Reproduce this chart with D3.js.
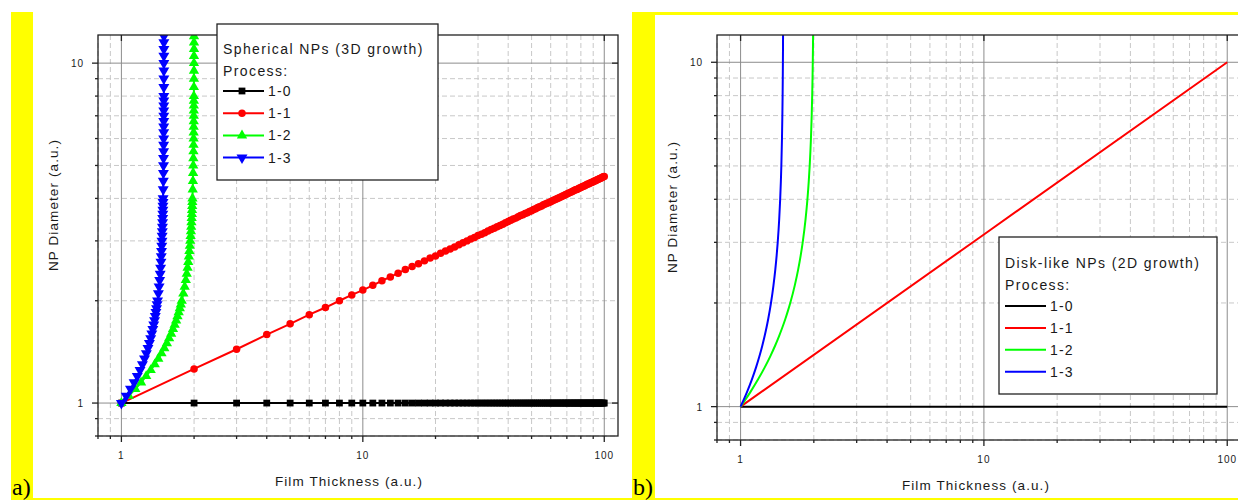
<!DOCTYPE html>
<html>
<head>
<meta charset="utf-8">
<script src="https://cdn.jsdelivr.net/npm/d3@7"></script>
<style>
  body { margin: 0; background: #fff; }
  svg { display: block; }
</style>
</head>
<body>
<svg id="chart" width="1238" height="500"></svg>
<script>
// ---- data: spherical NPs (3D growth), panel a ----
const thickness = [1,2,3,4,5,6,7,8,9,10,11,12,13,14,15,16,17,18,19,20,
  21,22,23,24,25,26,27,28,29,30,31,32,33,34,35,36,37,38,39,40,
  41,42,43,44,45,46,47,48,49,50,51,52,53,54,55,56,57,58,59,60,
  61,62,63,64,65,66,67,68,69,70,71,72,73,74,75,76,77,78,79,80,
  81,82,83,84,85,86,87,88,89,90,91,92,93,94,95,96,97,98,99,100];
const sph10Diameter = [1,1,1,1,1,1,1,1,1,1,1,1,1,1,1,1,1,1,1,1,
  1,1,1,1,1,1,1,1,1,1,1,1,1,1,1,1,1,1,1,1,
  1,1,1,1,1,1,1,1,1,1,1,1,1,1,1,1,1,1,1,1,
  1,1,1,1,1,1,1,1,1,1,1,1,1,1,1,1,1,1,1,1,
  1,1,1,1,1,1,1,1,1,1,1,1,1,1,1,1,1,1,1,1];
const sph11Diameter = [1.00,1.26,1.44,1.59,1.71,1.82,1.91,2.00,2.08,2.15,
  2.22,2.29,2.35,2.41,2.47,2.52,2.57,2.62,2.67,2.71,
  2.76,2.80,2.84,2.88,2.92,2.96,3.00,3.04,3.07,3.11,
  3.14,3.17,3.21,3.24,3.27,3.30,3.33,3.36,3.39,3.42,
  3.45,3.48,3.50,3.53,3.56,3.58,3.61,3.63,3.66,3.68,
  3.71,3.73,3.76,3.78,3.80,3.83,3.85,3.87,3.89,3.91,
  3.94,3.96,3.98,4.00,4.02,4.04,4.06,4.08,4.10,4.12,
  4.14,4.16,4.18,4.20,4.22,4.24,4.25,4.27,4.29,4.31,
  4.33,4.34,4.36,4.38,4.40,4.41,4.43,4.45,4.46,4.48,
  4.50,4.51,4.53,4.55,4.56,4.58,4.59,4.61,4.63,4.64];
const sphDiameter = [1,1.05,1.1,1.15,1.2,1.25,1.3,1.35,1.4,1.45,1.5,1.55,1.6,1.65,1.7,1.75,1.8,1.85,1.9,1.95,2,
  2.1,2.2,2.3,2.4,2.5,2.6,2.7,2.8,2.9,3,3.1,3.2,3.3,3.4,3.5,3.6,3.7,3.8,3.9,4,
  4.25,4.5,4.75,5,5.25,5.5,5.75,6,6.25,6.5,6.75,7,7.25,7.5,7.75,8,
  8.5,9,9.5,10,10.5,11,11.5,12,12.5];
const sph12Thickness = [1,1.07306,1.14200,1.20662,1.26686,1.32275,1.37441,1.42203,1.46581,1.50600,1.54286,
  1.57662,1.60754,1.63584,1.66176,1.68550,1.70726,1.72721,1.74551,1.76233,1.77778,
  1.80508,1.82830,1.84810,1.86508,1.87970,1.89233,1.90330,1.91286,1.92123,1.92857,
  1.93505,1.94077,1.94585,1.95038,1.95442,1.95803,1.96128,1.96420,1.96684,1.96923,
  1.97428,1.97829,1.98151,1.98413,1.98627,1.98805,1.98953,1.99078,1.99184,1.99274,
  1.99352,1.99419,1.99477,1.99527,1.99571,1.99610,
  1.99675,1.99726,1.99767,1.99800,1.99827,1.99850,1.99869,1.99884,1.99898];
const sph13Thickness = [1,1.04755,1.09039,1.12887,1.16338,1.19427,1.22191,1.24666,1.26880,1.28865,1.30645,
  1.32244,1.33681,1.34976,1.36145,1.37200,1.38155,1.39021,1.39808,1.40524,1.41176,
  1.42317,1.43272,1.44079,1.44764,1.45349,1.45851,1.46284,1.46659,1.46987,1.47273,
  1.47524,1.47745,1.47942,1.48116,1.48271,1.48411,1.48534,1.48646,1.48746,1.48837,
  1.49029,1.49181,1.49303,1.49402,1.49483,1.49551,1.49607,1.49654,1.49693,1.49727,
  1.49757,1.49782,1.49803,1.49822,1.49839,1.49854,
  1.49878,1.49897,1.49913,1.49925,1.49935,1.49944,1.49951,1.49957,1.49962];

// ---- data: disk-like NPs (2D growth), panel b ----
const disk10Thickness = [1, 100];
const disk10Diameter = [1, 1];
const disk11Thickness = [1, 10, 100];
const disk11Diameter = [1, 3.162, 10];
const diskDiameter = [1,1.1,1.2,1.3,1.4,1.5,1.6,1.7,1.8,1.9,2,2.25,2.5,2.75,3,3.5,4,4.5,5,6,7,8,9,10,11,12.5];
const disk12Thickness = [1,1.09502,1.18033,1.25651,1.32432,1.38462,1.43820,1.48586,1.52830,1.56616,1.6,
  1.67010,1.72414,1.76642,1.8,1.84906,1.88235,1.90588,1.92308,1.94595,1.96,1.96923,1.97561,1.98020,1.98361,1.98728];
const disk13Thickness = [1,1.06140,1.11340,1.15753,1.19512,1.22727,1.25490,1.27876,1.29947,1.31752,1.33333,
  1.36517,1.38889,1.40698,1.42105,1.44118,1.45455,1.46386,1.47059,1.47945,1.48485,1.48837,1.49080,1.49254,1.49383,1.49522];

const processNames = ["1-0", "1-1", "1-2", "1-3"];
const majorTicks = [1, 10, 100];
const minorTicks = [0.8, 0.9, 2, 3, 4, 5, 6, 7, 8, 9, 20, 30, 40, 50, 60, 70, 80, 90];

const font = "'Liberation Sans', Arial, sans-serif";
const textColor = "#1a1a1a";
const svg = d3.select("#chart");

// yellow page decoration
const yellow = "#ffff00";
svg.append("rect").attr("x", 11).attr("y", 12).attr("width", 22).attr("height", 488).attr("fill", yellow);
svg.append("rect").attr("x", 632).attr("y", 12).attr("width", 23).attr("height", 488).attr("fill", yellow);
svg.append("rect").attr("x", 632).attr("y", 12).attr("width", 606).attr("height", 3).attr("fill", yellow);
svg.append("rect").attr("x", 11).attr("y", 498).attr("width", 1227).attr("height", 2).attr("fill", yellow);

function makeSymbol(kind, size) {
  const types = { square: d3.symbolSquare, circle: d3.symbolCircle, up: d3.symbolTriangle, down: d3.symbolTriangle };
  return d3.symbol().type(types[kind]).size(size)();
}

function drawPanel(cfg) {
  const g = svg.append("g");
  const f = cfg.frame;
  const x = d3.scaleLog().domain(cfg.xDomain).range([f.left, f.right]);
  const y = d3.scaleLog().domain(cfg.yDomain).range([f.bottom, f.top]);

  const inX = (v) => v >= cfg.xDomain[0] && v <= cfg.xDomain[1];
  const inY = (v) => v >= cfg.yDomain[0] && v <= cfg.yDomain[1];

  // grid
  const grid = g.append("g");
  minorTicks.filter(inX).forEach((v) => {
    grid.append("line").attr("x1", x(v)).attr("x2", x(v)).attr("y1", f.top).attr("y2", f.bottom)
      .attr("stroke", "#c8c8c8").attr("stroke-dasharray", "5,3");
  });
  minorTicks.filter(inY).forEach((v) => {
    grid.append("line").attr("y1", y(v)).attr("y2", y(v)).attr("x1", f.left).attr("x2", f.right)
      .attr("stroke", "#c8c8c8").attr("stroke-dasharray", "5,3");
  });
  majorTicks.filter(inX).forEach((v) => {
    grid.append("line").attr("x1", x(v)).attr("x2", x(v)).attr("y1", f.top).attr("y2", f.bottom)
      .attr("stroke", "#8c8c8c");
  });
  majorTicks.filter(inY).forEach((v) => {
    grid.append("line").attr("y1", y(v)).attr("y2", y(v)).attr("x1", f.left).attr("x2", f.right)
      .attr("stroke", "#8c8c8c");
  });

  // series
  const clipId = "clip-" + cfg.id;
  g.append("clipPath").attr("id", clipId).append("rect")
    .attr("x", f.left).attr("y", f.top).attr("width", f.right - f.left).attr("height", f.bottom - f.top);
  const plot = g.append("g").attr("clip-path", `url(#${clipId})`);

  cfg.series.forEach((s) => {
    const pts = s.x.map((v, i) => [v, s.y[i]]);
    const line = d3.line().x((d) => x(d[0])).y((d) => y(d[1]));
    if (cfg.smooth) line.curve(d3.curveMonotoneX);
    plot.append("path").attr("d", line(pts)).attr("fill", "none")
      .attr("stroke", s.color).attr("stroke-width", 2);
    if (s.marker) {
      const sym = makeSymbol(s.marker, s.size);
      plot.selectAll(null).data(pts).enter().append("path")
        .attr("d", sym)
        .attr("transform", (d) => `translate(${x(d[0])},${y(d[1])})` + (s.marker === "down" ? " rotate(180)" : ""))
        .attr("fill", s.color);
    }
  });

  // frame & ticks
  const axes = g.append("g").attr("stroke", "#222").attr("stroke-width", 1.3);
  axes.append("rect").attr("x", f.left).attr("y", f.top).attr("width", f.right - f.left)
    .attr("height", f.bottom - f.top).attr("fill", "none");
  majorTicks.filter(inX).forEach((v) => {
    axes.append("line").attr("x1", x(v)).attr("x2", x(v)).attr("y1", f.bottom).attr("y2", f.bottom + 6);
    axes.append("line").attr("x1", x(v)).attr("x2", x(v)).attr("y1", f.top).attr("y2", f.top + 6);
  });
  minorTicks.filter(inX).forEach((v) => {
    axes.append("line").attr("x1", x(v)).attr("x2", x(v)).attr("y1", f.bottom).attr("y2", f.bottom + 3);
  });
  majorTicks.filter(inY).forEach((v) => {
    axes.append("line").attr("y1", y(v)).attr("y2", y(v)).attr("x1", f.left - 6).attr("x2", f.left);
    axes.append("line").attr("y1", y(v)).attr("y2", y(v)).attr("x1", f.right - 6).attr("x2", f.right);
  });
  minorTicks.filter(inY).forEach((v) => {
    axes.append("line").attr("y1", y(v)).attr("y2", y(v)).attr("x1", f.left - 3).attr("x2", f.left);
  });

  // tick labels
  const labels = g.append("g").attr("font-family", font).attr("font-size", 10)
    .attr("letter-spacing", 1).attr("fill", textColor);
  majorTicks.filter(inX).forEach((v) => {
    labels.append("text").attr("x", x(v)).attr("y", f.bottom + 23).attr("text-anchor", "middle").text(v);
  });
  majorTicks.filter(inY).forEach((v) => {
    labels.append("text").attr("x", f.left - 14).attr("y", y(v) + 4).attr("text-anchor", "end").text(v);
  });

  // axis titles
  g.append("text").attr("x", cfg.xTitle[0]).attr("y", cfg.xTitle[1]).attr("text-anchor", "middle")
    .attr("font-family", font).attr("font-size", 13.5).attr("letter-spacing", 1.1).attr("fill", textColor)
    .text("Film Thickness (a.u.)");
  g.append("text").attr("transform", `translate(${cfg.yTitle[0]},${cfg.yTitle[1]}) rotate(-90)`)
    .attr("text-anchor", "middle").attr("font-family", font).attr("font-size", 13.5)
    .attr("letter-spacing", 1.1).attr("fill", textColor).text("NP Diameter (a.u.)");

  // legend
  const L = cfg.legend;
  const lg = g.append("g");
  lg.append("rect").attr("x", L.x).attr("y", L.y).attr("width", L.w).attr("height", L.h)
    .attr("fill", "#fff").attr("stroke", "#222").attr("stroke-width", 1.3);
  const lt = lg.append("g").attr("font-family", font).attr("font-size", 14)
    .attr("letter-spacing", 1.4).attr("fill", textColor);
  lt.append("text").attr("x", L.x + 6).attr("y", L.titleY).text(L.title);
  lt.append("text").attr("x", L.x + 6).attr("y", L.titleY + 22).text("Process:");
  cfg.series.forEach((s, i) => {
    const ry = L.rowY + i * L.rowStep;
    lg.append("line").attr("x1", L.x + 6).attr("x2", L.x + 47).attr("y1", ry).attr("y2", ry)
      .attr("stroke", s.color).attr("stroke-width", 2);
    if (s.marker) {
      lg.append("path").attr("d", makeSymbol(s.marker, s.size))
        .attr("transform", `translate(${L.x + 25},${ry})` + (s.marker === "down" ? " rotate(180)" : ""))
        .attr("fill", s.color);
    }
    lt.append("text").attr("x", L.x + 51).attr("y", ry + 5).attr("letter-spacing", 1.2).text(processNames[i]);
  });

  // panel letter
  g.append("text").attr("x", cfg.letter[0]).attr("y", cfg.letter[1])
    .attr("font-family", "'Liberation Serif', 'Times New Roman', serif").attr("font-size", 24)
    .attr("fill", "#000").text(cfg.letterText);
}

drawPanel({
  id: "a",
  frame: { left: 98, right: 618, top: 35, bottom: 436 },
  xDomain: [0.8, 114],
  yDomain: [0.8, 12.1],
  series: [
    { x: thickness, y: sph10Diameter, color: "#000000", marker: "square", size: 46 },
    { x: thickness, y: sph11Diameter, color: "#ff0000", marker: "circle", size: 44 },
    { x: sph12Thickness, y: sphDiameter, color: "#00ff00", marker: "up", size: 46 },
    { x: sph13Thickness, y: sphDiameter, color: "#0000ff", marker: "down", size: 52 }
  ],
  xTitle: [349, 486],
  yTitle: [58, 205],
  legend: { x: 217, y: 24, w: 221, h: 156, title: "Spherical NPs (3D growth)", titleY: 54, rowY: 91, rowStep: 22.2 },
  letter: [12, 495],
  letterText: "a)"
});

drawPanel({
  id: "b",
  frame: { left: 717, right: 1246.5, top: 35, bottom: 440 },
  xDomain: [0.8, 120],
  yDomain: [0.8, 12],
  smooth: true,
  series: [
    { x: disk10Thickness, y: disk10Diameter, color: "#000000" },
    { x: disk11Thickness, y: disk11Diameter, color: "#ff0000" },
    { x: disk12Thickness, y: diskDiameter, color: "#00ff00" },
    { x: disk13Thickness, y: diskDiameter, color: "#0000ff" }
  ],
  xTitle: [976, 490],
  yTitle: [677, 207],
  legend: { x: 999, y: 237, w: 218, h: 157, title: "Disk-like NPs (2D growth)", titleY: 268, rowY: 306, rowStep: 21.9 },
  letter: [633, 495],
  letterText: "b)"
});
</script>
</body>
</html>
